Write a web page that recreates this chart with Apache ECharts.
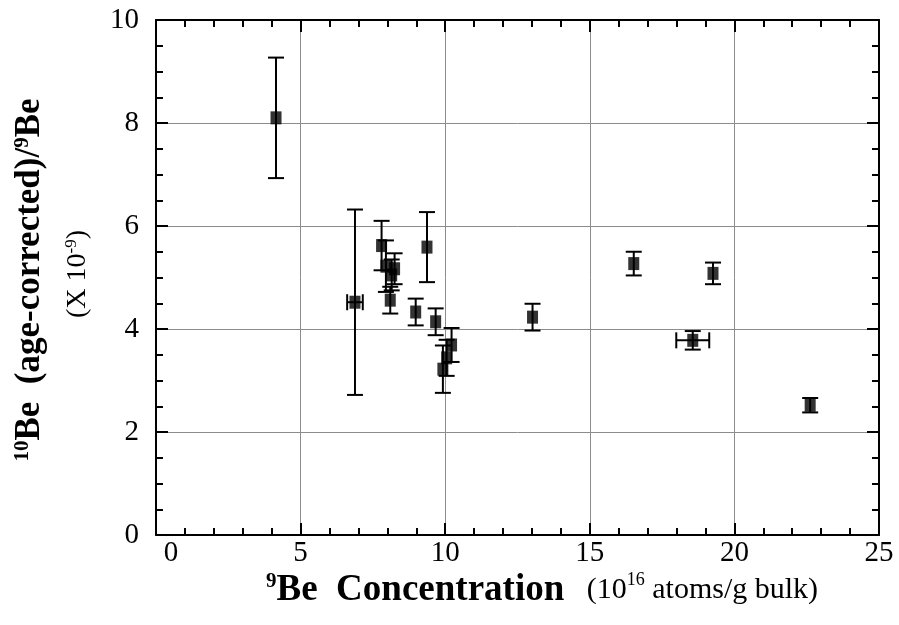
<!DOCTYPE html>
<html>
<head>
<meta charset="utf-8">
<script src="https://cdn.jsdelivr.net/npm/echarts@6/dist/echarts.min.js"></script>
<style>
html, body { margin: 0; padding: 0; background: #fff; }
#chart { width: 899px; height: 625px; }
</style>
</head>
<body>
<div id="chart"></div>
<script>
// 9Be concentration (10^16 atoms/g bulk)
var beConc = [4.15, 6.88, 7.80, 7.95, 8.15, 8.25, 8.10, 8.98, 9.37, 9.67, 9.92, 10.05, 10.22, 13.02, 16.52, 18.56, 19.26, 22.62];
// 10Be(age-corrected)/9Be (x 10^-9)
var ratio = [8.10, 4.52, 5.62, 5.22, 5.05, 5.17, 4.56, 4.33, 5.59, 4.14, 3.22, 3.44, 3.69, 4.23, 5.27, 3.78, 5.08, 2.52];
var ratioErr = [1.17, 1.80, 0.48, 0.50, 0.30, 0.30, 0.26, 0.26, 0.68, 0.26, 0.46, 0.35, 0.33, 0.26, 0.23, 0.18, 0.21, 0.14];
var concErr = [0, 0.27, 0, 0, 0, 0, 0, 0, 0, 0, 0, 0, 0, 0, 0, 0.57, 0, 0];

var xMin = 0, xMax = 25, xStep = 5;
var yMin = 0, yMax = 10, yStep = 2;

var points = [];
var bars = [];
for (var i = 0; i < beConc.length; i++) {
  points.push([beConc[i], ratio[i]]);
  bars.push([beConc[i], ratio[i], ratioErr[i], concErr[i]]);
}

var serif = '"Liberation Serif", "DejaVu Serif", serif';
var black = '#000';

function axisBase(pos, min, max, step, minorSplit, showLabel) {
  return {
    type: 'value',
    position: pos,
    min: min,
    max: max,
    interval: step,
    axisLine: { show: true, onZero: false, lineStyle: { color: black, width: 2 } },
    axisTick: { show: true, inside: true, length: 12, lineStyle: { color: black, width: 2 } },
    minorTick: { show: true, splitNumber: minorSplit, length: 7, lineStyle: { color: black, width: 2 } },
    splitLine: { show: showLabel, lineStyle: { color: '#8c8c8c', width: 1 } },
    axisLabel: { show: false }
  };
}

var xBottom = axisBase('bottom', xMin, xMax, xStep, 5, true);
xBottom.axisLabel = {
  show: true,
  margin: 4,
  color: black,
  fontFamily: serif,
  fontSize: 29,
  formatter: function (v) { return v === 0 ? '{z|0}' : String(v); },
  rich: { z: { fontFamily: serif, fontSize: 29, color: black, padding: [0, 0, 0, 30] } }
};
var xTop = axisBase('top', xMin, xMax, xStep, 5, false);

var yLeft = axisBase('left', yMin, yMax, yStep, 4, true);
yLeft.axisLabel = { show: true, margin: 17, color: black, fontFamily: serif, fontSize: 29 };
var yRight = axisBase('right', yMin, yMax, yStep, 4, false);

function renderBars(params, api) {
  var x = api.value(0), y = api.value(1), ey = api.value(2), ex = api.value(3);
  var c = api.coord([x, y]);
  var st = { stroke: black, lineWidth: 2 };
  var cap = 8;
  var kids = [];
  if (ey > 0) {
    var t = api.coord([x, y + ey]), b = api.coord([x, y - ey]);
    kids.push({ type: 'line', shape: { x1: c[0], y1: t[1], x2: c[0], y2: b[1] }, style: st });
    kids.push({ type: 'line', shape: { x1: c[0] - cap, y1: t[1], x2: c[0] + cap, y2: t[1] }, style: st });
    kids.push({ type: 'line', shape: { x1: c[0] - cap, y1: b[1], x2: c[0] + cap, y2: b[1] }, style: st });
  }
  if (ex > 0) {
    var l = api.coord([x - ex, y]), r = api.coord([x + ex, y]);
    kids.push({ type: 'line', shape: { x1: l[0], y1: c[1], x2: r[0], y2: c[1] }, style: st });
    kids.push({ type: 'line', shape: { x1: l[0], y1: c[1] - cap, x2: l[0], y2: c[1] + cap }, style: st });
    kids.push({ type: 'line', shape: { x1: r[0], y1: c[1] - cap, x2: r[0], y2: c[1] + cap }, style: st });
  }
  return { type: 'group', children: kids };
}

var chart = echarts.init(document.getElementById('chart'), null, { renderer: 'canvas' });
var option = {
  backgroundColor: '#fff',
  animation: false,
  grid: { left: 156, right: 20, top: 20, bottom: 90, containLabel: false },
  xAxis: [xBottom, xTop],
  yAxis: [yLeft, yRight],
  series: [
    {
      type: 'custom',
      xAxisIndex: 0,
      yAxisIndex: 0,
      renderItem: renderBars,
      encode: { x: 0, y: 1 },
      data: bars,
      z: 3,
      silent: true
    },
    {
      type: 'scatter',
      xAxisIndex: 0,
      yAxisIndex: 0,
      symbol: 'rect',
      symbolSize: [11, 13],
      itemStyle: { color: black },
      data: points,
      z: 4
    }
  ],
  graphic: [
    {
      type: 'text',
      left: 266,
      top: 571,
      style: {
        text: '{s|9}{b|Be  Concentration}{n|   (10}{s2|16}{n| atoms/g bulk)}',
        fill: black,
        rich: {
          s: { fontFamily: serif, fontWeight: 'bold', fontSize: 21, verticalAlign: 'top', lineHeight: 38, fill: black },
          b: { fontFamily: serif, fontWeight: 'bold', fontSize: 37, lineHeight: 38, fill: black },
          n: { fontFamily: serif, fontSize: 30, lineHeight: 38, fill: black },
          s2: { fontFamily: serif, fontSize: 18, verticalAlign: 'top', lineHeight: 38, fill: black }
        }
      }
    },
    {
      type: 'text',
      x: 30,
      y: 280,
      rotation: Math.PI / 2,
      style: {
        text: '{s|10}{b|Be  (age-corrected)/}{s|9}{b|Be}',
        align: 'center',
        verticalAlign: 'middle',
        fill: black,
        rich: {
          s: { fontFamily: serif, fontWeight: 'bold', fontSize: 21, verticalAlign: 'top', lineHeight: 36, fill: black },
          b: { fontFamily: serif, fontWeight: 'bold', fontSize: 35, lineHeight: 36, fill: black }
        }
      }
    },
    {
      type: 'text',
      x: 78,
      y: 274,
      rotation: Math.PI / 2,
      style: {
        text: '{n|(X 10}{s|-9}{n|)}',
        align: 'center',
        verticalAlign: 'middle',
        fill: black,
        rich: {
          n: { fontFamily: serif, fontSize: 28, lineHeight: 30, fill: black },
          s: { fontFamily: serif, fontSize: 17, verticalAlign: 'top', lineHeight: 30, fill: black }
        }
      }
    }
  ]
};
chart.setOption(option);
</script>
</body>
</html>
